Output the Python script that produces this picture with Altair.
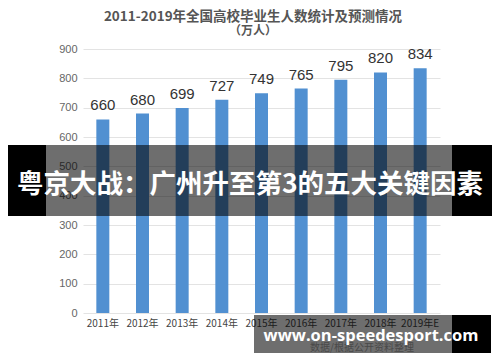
import altair as alt
import pandas as pd

years = ["2011年", "2012年", "2013年", "2014年", "2015年", "2016年", "2017年", "2018年", "2019年E"]
graduates = [660, 680, 699, 727, 749, 765, 795, 820, 834]
y_ticks = [0, 100, 200, 300, 400, 500, 600, 700, 800, 900]
title_line1 = "2011-2019年全国高校毕业生人数统计及预测情况"
title_line2 = "（万人）"
banner_text = "粤京大战：广州升至第3的五大关键因素"
watermark_text = "www.on-speedesport.com"
source_text = "数据/根据公开资料整理"

df = pd.DataFrame({"year": years, "value": graduates})
one = pd.DataFrame({"k": [0]})

CJK = "Noto Sans CJK SC"
NUM = "Liberation Sans"

x_enc = alt.X("year:N", sort=years,
              scale=alt.Scale(paddingInner=0, paddingOuter=0),
              axis=alt.Axis(title=None, labelAngle=0, ticks=False, domain=False,
                            labelFont=CJK, labelFontSize=10, labelColor="#444",
                            labelPadding=5, grid=False, labelOverlap=False))
y_enc = alt.Y("value:Q", scale=alt.Scale(domain=[0, 900], nice=False, zero=True),
              axis=alt.Axis(title=None, values=y_ticks, ticks=False, domain=False,
                            labelFont=NUM, labelFontSize=11, labelColor="#666",
                            labelPadding=6, gridColor="#e3e3e3", gridWidth=1,
                            labelOverlap=False))

base = alt.Chart(df).encode(x=x_enc, y=y_enc)
bars = base.mark_bar(size=13, color="#5190d1")
labels = base.mark_text(baseline="bottom", dy=-6, font=NUM, fontSize=15,
                        color="#333").encode(text="value:Q")

t1 = alt.Chart(one).mark_text(font=CJK, fontSize=13.5, fontWeight="bold", color="#555",
                              baseline="middle").encode(
    x=alt.value(170), y=alt.value(-32), text=alt.value(title_line1))
t2 = alt.Chart(one).mark_text(font=CJK, fontSize=12, fontWeight="bold", color="#555",
                              baseline="middle").encode(
    x=alt.value(170), y=alt.value(-18), text=alt.value(title_line2))

band_black_l = alt.Chart(one).mark_rect(color="black").encode(
    x=alt.value(-75), x2=alt.value(-37), y=alt.value(96), y2=alt.value(167))
band_gray = alt.Chart(one).mark_rect(color="black", opacity=0.57).encode(
    x=alt.value(-37), x2=alt.value(369), y=alt.value(96), y2=alt.value(167))
band_black_r = alt.Chart(one).mark_rect(color="black").encode(
    x=alt.value(369), x2=alt.value(420), y=alt.value(96), y2=alt.value(167))
band_txt = alt.Chart(one).mark_text(font=CJK, fontSize=26.5, fontWeight="bold",
                                    color="white", baseline="middle").encode(
    x=alt.value(167), y=alt.value(136), text=alt.value(banner_text))

src = alt.Chart(one).mark_text(font=CJK, fontSize=10, color="#aaa",
                               baseline="middle").encode(
    x=alt.value(279), y=alt.value(299), text=alt.value(source_text))

wm_gray = alt.Chart(one).mark_rect(color="black", opacity=0.57).encode(
    x=alt.value(171), x2=alt.value(369), y=alt.value(266), y2=alt.value(304))
wm_black = alt.Chart(one).mark_rect(color="black").encode(
    x=alt.value(369), x2=alt.value(408), y=alt.value(266), y2=alt.value(304))
wm_txt = alt.Chart(one).mark_text(font="Open Sans", fontSize=16.5, fontWeight="bold",
                                  color="white", baseline="middle").encode(
    x=alt.value(288), y=alt.value(287), text=alt.value(watermark_text))

chart = alt.layer(bars, labels, t1, t2, band_black_l, band_gray, band_black_r, band_txt,
                  src, wm_gray, wm_black, wm_txt).properties(
    width=357, height=264,
    autosize=alt.AutoSizeParams(type="none"),
    padding={"left": 75, "top": 41, "right": 52, "bottom": 41},
    background="white",
).configure_view(stroke=None)

chart.save("out.html", embed_options={"renderer": "svg", "actions": False})
